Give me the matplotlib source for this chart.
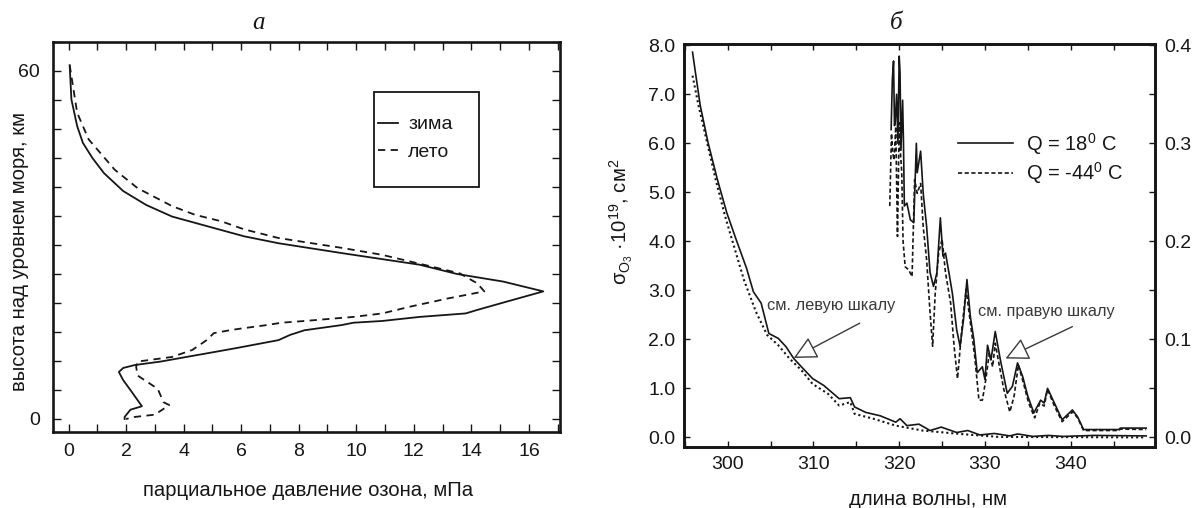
import matplotlib
matplotlib.use("Agg")
import matplotlib.pyplot as plt
from matplotlib.ticker import MultipleLocator, FormatStrFormatter
from matplotlib.patches import Rectangle

plt.rcParams['font.family'] = ['Liberation Sans', 'DejaVu Sans']
plt.rcParams['mathtext.fontset'] = 'custom'
plt.rcParams['mathtext.rm'] = 'Liberation Sans'
plt.rcParams['mathtext.it'] = 'Liberation Sans:italic'
plt.rcParams['mathtext.bf'] = 'Liberation Sans:bold'
plt.rcParams['mathtext.sf'] = 'Liberation Sans'

# ---------------- data: panel a (ozone partial pressure profile) ----------------
winter_p = [0.04, 0.1, 0.3, 0.5, 0.83, 1.23, 1.9, 2.7, 3.6, 4.85, 6.1, 7.3, 9.5, 12.2,
            13.5, 15.1, 16.5, 15.2, 14.2, 13.8, 12.2, 10.9, 9.9, 9.5, 8.2, 7.7, 7.3,
            5.8, 4.9, 4.1, 3.2, 2.3, 1.9, 1.75, 1.9, 2.15, 2.55, 2.15, 1.95, 1.95]
winter_h = [61, 55.1, 50.5, 47.6, 45, 42.4, 39.3, 36.9, 34.9, 33.2, 31.5, 30.3, 28.6, 26.6,
            25, 23.7, 22, 20.2, 18.8, 18.2, 17.6, 16.9, 16.6, 16.2, 15.3, 14.5, 13.6,
            12.2, 11.4, 10.7, 9.9, 9.3, 8.8, 8.1, 6.7, 5, 2.2, 1.6, 0.35, 0]
summer_p = [0.04, 0.3, 0.7, 1.1, 1.6, 2.4, 3.6, 4.4, 5.3, 6.1, 7.3, 9.5, 10.9, 12.6,
            13.6, 14.2, 14.45, 13.2, 11.9, 10.9, 9.9, 8.2, 7.4, 6.9, 6.0, 5.6, 5.05,
            4.8, 4.3, 3.6, 2.4, 2.35, 2.4, 3.1, 3.3, 3.5, 3.0, 2.3, 2.0]
summer_h = [61, 52.8, 48.2, 45.9, 43, 39.8, 36.7, 35.2, 34.1, 32.7, 31.2, 29.5, 28.3, 26.3,
            25.1, 23.4, 22, 20.8, 19.4, 18.2, 17.6, 16.9, 16.6, 16.2, 15.6, 15.3, 14.8,
            13.6, 11.9, 10.7, 9.9, 9, 7.5, 5.2, 2.9, 2.4, 0.75, 0.35, 0]
labels_a = ['зима', 'лето']

# ---------------- data: panel b (ozone absorption cross-section) ----------------
# left scale (x10^-19 cm^2)
wl_low_warm = [295.9, 296.2, 296.8, 297.7, 298.8, 299.9, 301.0, 302.2, 303.0, 303.9, 304.8,
               305.9, 306.8, 307.7, 308.6, 309.9, 311.2, 313.0, 314.3, 314.8, 316.1, 317.8,
               319.6, 320.1, 320.9, 322.3, 323.6, 324.9, 326.7, 328.0, 329.4, 331.1, 332.9,
               333.8, 335.6, 337.4, 339.1, 342.7, 348.8]
sig_low_warm = [7.86, 7.49, 6.77, 6.02, 5.26, 4.58, 4.03, 3.45, 2.97, 2.74, 2.12,
                2.02, 1.85, 1.61, 1.44, 1.20, 1.06, 0.79, 0.81, 0.62, 0.51, 0.44,
                0.31, 0.38, 0.24, 0.27, 0.14, 0.21, 0.10, 0.14, 0.05, 0.08, 0.03,
                0.07, 0.02, 0.04, 0.02, 0.04, 0.03]
wl_low_cold = [295.9, 296.6, 297.5, 298.6, 299.7, 300.8, 301.9, 303.3, 304.6, 305.9, 307.2,
               308.6, 309.9, 311.7, 313.0, 314.3, 314.8, 317.0, 319.6, 322.7, 327.1, 331.6,
               348.8]
sig_low_cold = [7.38, 6.77, 6.09, 5.26, 4.51, 3.86, 3.21, 2.56, 2.09, 1.88, 1.61,
                1.37, 1.09, 0.89, 0.65, 0.72, 0.48, 0.38, 0.24, 0.14, 0.07, 0.01,
                0.0]
# right scale (x10^-19 cm^2)
wl_up_warm = [319.06, 319.2, 319.34, 319.45, 319.53, 319.7, 319.85, 320.0, 320.1, 320.2,
              320.4, 320.5, 320.6, 320.9, 321.3, 321.7, 322.0,
              322.1, 322.5, 322.8, 323.2, 323.6, 324.0, 324.4, 324.8, 325.1, 325.4, 325.8,
              326.2, 326.7, 327.1, 327.5, 327.9, 328.3, 328.7, 329.1, 329.7, 330.0, 330.3,
              330.7, 331.2, 331.8, 332.6, 333.2, 333.8, 334.4, 335.0, 335.7, 336.5, 336.9,
              337.3, 338.1, 339.0, 339.6, 340.2, 340.8, 341.5, 345.6, 345.8, 348.8]
sig_up_warm = [0.314, 0.365, 0.384, 0.318, 0.321, 0.350, 0.300, 0.389, 0.372, 0.293,
               0.344, 0.300, 0.236, 0.239, 0.222, 0.219, 0.300,
               0.270, 0.292, 0.249, 0.215, 0.168, 0.154, 0.168, 0.224, 0.185, 0.188, 0.168,
               0.147, 0.110, 0.093, 0.120, 0.161, 0.123, 0.100, 0.066, 0.072, 0.059, 0.094,
               0.079, 0.108, 0.079, 0.045, 0.052, 0.076, 0.062, 0.042, 0.025, 0.038, 0.035,
               0.050, 0.035, 0.018, 0.023, 0.028, 0.021, 0.008, 0.008, 0.0095, 0.0095]
wl_up_cold = [318.9, 319.1, 319.25, 319.4, 319.6, 319.8, 320.0, 320.15, 320.3, 320.45,
              320.7, 321.1, 321.5, 321.8,
              322.1, 322.5, 322.8, 323.2, 323.6, 323.9, 324.2, 324.6, 325.0, 325.4, 326.0,
              326.4, 326.8, 327.3, 327.8, 328.3, 328.8, 329.3, 329.7, 330.1, 330.5, 330.9,
              331.2, 331.7, 332.2, 332.9, 333.4, 333.9, 334.5, 335.1, 335.8, 336.4, 336.9,
              337.3, 338.1, 339.0, 339.6, 340.2, 340.8, 341.5, 345.6, 345.8, 348.8]
sig_up_cold = [0.236, 0.310, 0.290, 0.283, 0.317, 0.205, 0.321, 0.290, 0.270, 0.200,
               0.174, 0.171, 0.164, 0.263,
               0.249, 0.259, 0.215, 0.181, 0.127, 0.093, 0.147, 0.188, 0.202, 0.168, 0.137,
               0.093, 0.060, 0.110, 0.151, 0.117, 0.083, 0.038, 0.038, 0.059, 0.086, 0.072,
               0.096, 0.072, 0.049, 0.026, 0.042, 0.074, 0.055, 0.035, 0.020, 0.035, 0.032,
               0.049, 0.032, 0.016, 0.021, 0.026, 0.020, 0.007, 0.007, 0.0085, 0.008]
labels_b = ['Q = 18$^0$ C', 'Q = -44$^0$ C']

# ---------------- figure ----------------
W, H = 1195, 508
fig = plt.figure(figsize=(W / 100, H / 100), dpi=100)
ink = '#161616'
TICK_FS = 14
LABEL_FS = 14.6


def axes_rect(x0, y0, x1, y1):
    return [x0 / W, 1 - y1 / H, (x1 - x0) / W, (y1 - y0) / H]


def style_ticks(ax, length, pad):
    ax.tick_params(which='both', direction='in', length=length, width=1.0, color=ink,
                   top=True, right=True, labelsize=TICK_FS, pad=pad, labelcolor=ink)
    for s in ax.spines.values():
        s.set_linewidth(1.9)
        s.set_color(ink)


# ---- panel a ----
ax1 = fig.add_axes(axes_rect(52.7, 41.7, 560, 431.7))
ax1.plot(winter_p, winter_h, color=ink, lw=1.3, ls='-', label=labels_a[0])
ax1.plot(summer_p, summer_h, color=ink, lw=1.3, ls=(0, (4, 3)), label=labels_a[1])
ax1.set_xlim(-0.55, 17.08)
ax1.set_ylim(-2.19, 65.05)
ax1.xaxis.set_major_locator(MultipleLocator(2))
ax1.xaxis.set_minor_locator(MultipleLocator(1))
ax1.set_yticks([0, 60])
ax1.yaxis.set_minor_locator(MultipleLocator(5))
style_ticks(ax1, 5.8, 8.0)
ax1.tick_params(axis='y', pad=9)
ax1.set_xlabel('парциальное давление озона, мПа', fontsize=LABEL_FS, color=ink, va='center')
ax1.xaxis.set_label_coords(0.503, -0.1495)
ax1.set_ylabel('высота над уровнем моря, км', fontsize=LABEL_FS, color=ink,
               va='center', ha='center')
ax1.yaxis.set_label_coords(-0.0664, 0.4608)
ax1.text(0.405, 1.048, 'а', transform=ax1.transAxes, ha='center', va='center',
         fontsize=18, family='Liberation Serif', style='italic', color=ink)
ax1.legend(loc='upper left', bbox_to_anchor=(0.641, 0.81), frameon=False,
           borderpad=0, borderaxespad=0, handlelength=1.05, handletextpad=0.5,
           labelspacing=0.5, fontsize=14, labelcolor=ink)
ax1.add_patch(Rectangle((0.633, 0.627), 0.208, 0.243, transform=ax1.transAxes,
                        fill=False, ec=ink, lw=1.3, zorder=5))

# ---- panel b ----
ax2 = fig.add_axes(axes_rect(684.3, 44.3, 1155, 446.7))
ax2.plot(wl_low_warm, sig_low_warm, color=ink, lw=1.2, ls='-')
ax2.plot(wl_low_cold, sig_low_cold, color=ink, lw=1.5, ls=(0, (1, 1.4)))
ax2.set_xlim(294.94, 349.83)
ax2.set_ylim(-0.19, 8.02)
ax2.xaxis.set_major_locator(MultipleLocator(10))
ax2.xaxis.set_minor_locator(MultipleLocator(5))
ax2.yaxis.set_major_locator(MultipleLocator(1))
ax2.yaxis.set_major_formatter(FormatStrFormatter('%.1f'))
style_ticks(ax2, 4.2, 6.5)
ax2.tick_params(axis='y', right=False, which='both')

ax3 = ax2.twinx()
ax3.plot(wl_up_warm, sig_up_warm, color=ink, lw=1.2, ls='-', label=labels_b[0])
ax3.plot(wl_up_cold, sig_up_cold, color=ink, lw=1.2, ls=(0, (2.5, 1.5)), label=labels_b[1])
ax3.set_ylim(-0.19 / 20, 8.02 / 20)
ax3.yaxis.set_major_locator(MultipleLocator(0.1))
ax3.yaxis.set_minor_locator(MultipleLocator(0.05))
ax3.yaxis.set_major_formatter(FormatStrFormatter('%.1f'))
ax3.tick_params(which='both', direction='in', length=4.2, width=1.0, color=ink,
                labelsize=TICK_FS, pad=6.5, labelcolor=ink)
for s in ax3.spines.values():
    s.set_linewidth(1.9)
    s.set_color(ink)

ax2.set_xlabel('длина волны, нм', fontsize=LABEL_FS, color=ink, va='center')
ax2.xaxis.set_label_coords(0.5177, -0.130)
ax2.set_ylabel('σ$_{\\mathrm{O}_3}$ ·10$^{19}$, см$^2$', fontsize=LABEL_FS, color=ink,
               va='center', ha='center')
ax2.yaxis.set_label_coords(-0.1345, 0.5584)
ax2.text(0.4498, 1.053, 'б', transform=ax2.transAxes, ha='center', va='center',
         fontsize=18, family='Liberation Serif', style='italic', color=ink)

ax3.legend(loc='upper left', bbox_to_anchor=(0.582, 0.785), frameon=False,
           borderpad=0, borderaxespad=0, handlelength=2.7, handletextpad=0.68,
           labelspacing=0.17, fontsize=14.5, labelcolor=ink)

# annotations
ax2.text(304.58, 2.70, 'см. левую шкалу', fontsize=11.8, color='#3a3a3a', ha='left', va='center')
ax2.text(329.14, 2.56, 'см. правую шкалу', fontsize=11.8, color='#3a3a3a', ha='left', va='center')
arrow_kw = dict(arrowstyle='-|>,head_length=0.9,head_width=0.45', fc='white', ec='#3a3a3a',
                lw=1.0, mutation_scale=16, shrinkA=0, shrinkB=0)
ax2.annotate('', xy=(307.7, 1.62), xytext=(315.4, 2.33), arrowprops=arrow_kw, zorder=6)
ax2.annotate('', xy=(332.4, 1.61), xytext=(340.2, 2.26), arrowprops=arrow_kw, zorder=6)

fig.savefig('out.png', dpi=100)
